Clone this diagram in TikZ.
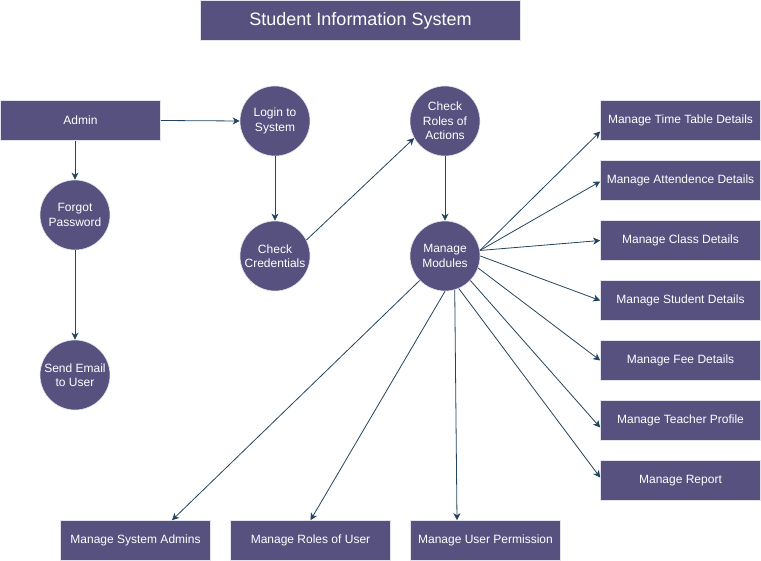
\documentclass[tikz,border=0pt]{standalone}
\usepackage{fontspec}
\setmainfont{Liberation Sans}
\usepackage{tikz}
\usetikzlibrary{arrows.meta}
\usepackage{xcolor}

\definecolor{sisfill}{HTML}{56517E}
\definecolor{sisedge}{HTML}{E4E4EC}
\definecolor{sisarrow}{HTML}{23445D}

\tikzset{
  sisbox/.style={rectangle, fill=sisfill, draw=sisedge, line width=0.6pt,
    text=white, minimum height=40pt, inner sep=0pt,
    font=\fontsize{12}{14.4}\selectfont},
  sisproc/.style={circle, fill=sisfill, draw=sisedge, line width=0.6pt,
    text=white, minimum size=70pt, inner sep=0pt, align=center,
    font=\fontsize{12}{14.4}\selectfont},
  sisflow/.style={draw=sisarrow, line width=0.8pt,
    -{Stealth[length=7pt,width=7pt,inset=2pt]}}
}

\begin{document}
\begin{tikzpicture}[x=1pt, y=-1pt]
  \useasboundingbox (0,0) rectangle (761,561);
  % Tittel
  \node[sisbox, minimum width=320pt, font=\fontsize{18}{21.6}\selectfont]
    (title) at (360.5,20.5) {Student Information System};
  % Venstre del
  \node[sisbox, minimum width=160pt] (admin) at (80.5,120.5) {Admin};
  \node[sisproc] (forgot) at (75,215) {Forgot\\Password};
  \node[sisproc] (sendmail) at (75,375) {Send Email\\to User};
  \node[sisproc] (login) at (275,121) {Login to\\System};
  \node[sisproc] (checkcred) at (275,256) {Check\\Credentials};
  \node[sisproc] (checkroles) at (445,121) {Check\\Roles of\\Actions};
  \node[sisproc] (modules) at (445,256) {Manage\\Modules};
  % Moduler til hoyre
  \node[sisbox, minimum width=160pt] (timetable) at (680.5,120.5) {Manage Time Table Details};
  \node[sisbox, minimum width=160pt] (attend) at (680.5,180.5) {Manage Attendence Details};
  \node[sisbox, minimum width=160pt] (class) at (680.5,240.5) {Manage Class Details};
  \node[sisbox, minimum width=160pt] (student) at (680.5,300.5) {Manage Student Details};
  \node[sisbox, minimum width=160pt] (fee) at (680.5,360.5) {Manage Fee Details};
  \node[sisbox, minimum width=160pt] (teacher) at (680.5,420.5) {Manage Teacher Profile};
  \node[sisbox, minimum width=160pt] (report) at (680.5,480.5) {Manage Report};
  % Moduler nederst
  \node[sisbox, minimum width=150pt] (sysadmins) at (135.5,540.5) {Manage System Admins};
  \node[sisbox, minimum width=160pt] (userroles) at (310.5,540.5) {Manage Roles of User};
  \node[sisbox, minimum width=150pt] (userperm) at (485.5,540.5) {Manage User Permission};
  % Piler
  \draw[sisflow] (admin.east) -- (login.west);
  \draw[sisflow] (admin.south -| forgot.north) -- (forgot.north);
  \draw[sisflow] (forgot) -- (sendmail);
  \draw[sisflow] (login) -- (checkcred);
  \draw[sisflow] (checkcred.27) -- (checkroles.209);
  \draw[sisflow] (checkroles) -- (modules);
  \draw[sisflow] (modules.9) -- ([yshift=-11pt]timetable.west);
  \draw[sisflow] (modules.9) -- ([yshift=-1pt]attend.west);
  \draw[sisflow] (modules.9) -- (class.west);
  \draw[sisflow] (modules.0) -- (student.west);
  \draw[sisflow] (modules.-20) -- (fee.west);
  \draw[sisflow] (modules.-44) -- ([yshift=-7pt]teacher.west);
  \draw[sisflow] (modules.-67) -- ([yshift=3pt]report.west);
  \draw[sisflow] (modules.224) -- ([xshift=36.5pt]sysadmins.north);
  \draw[sisflow] (modules.south) -- (userroles.north);
  \draw[sisflow] (modules.-74) -- ([xshift=-28.5pt]userperm.north);
\end{tikzpicture}
\end{document}
